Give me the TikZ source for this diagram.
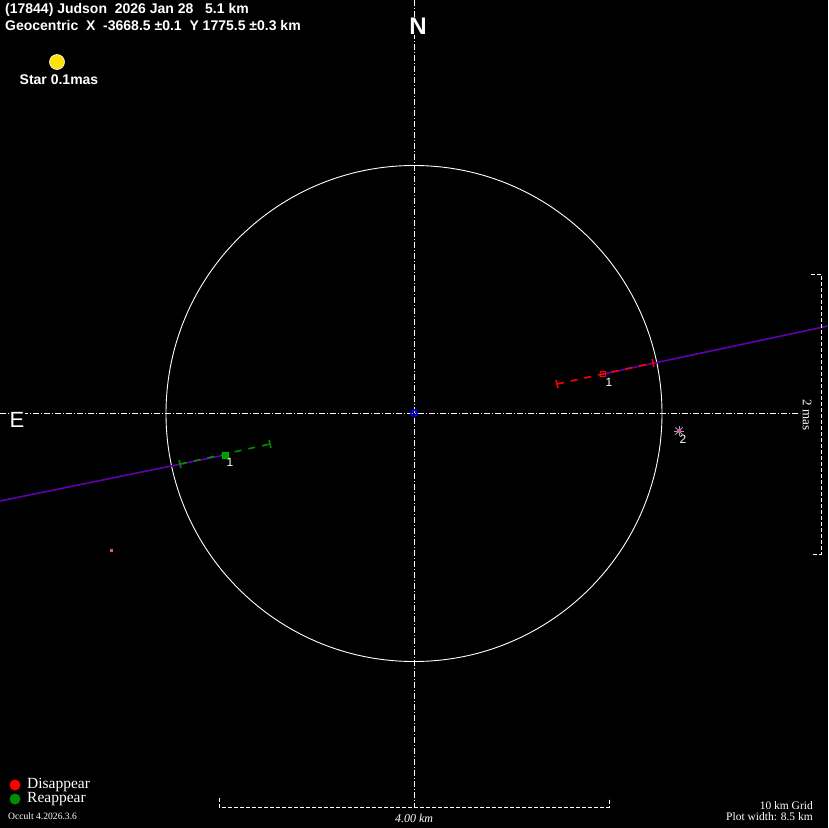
\documentclass[tikz,border=0pt]{standalone}
\usepackage{fontspec}
\setmainfont{Liberation Serif}
\newfontfamily\hdfont{Liberation Sans}
\usetikzlibrary{calc}
\definecolor{pinkdot}{RGB}{235,70,170}
\definecolor{pathviolet}{RGB}{100,0,170}
\begin{document}
\begin{tikzpicture}[x=1pt,y=-1pt,
  hd/.style={text=white,font=\hdfont\bfseries\fontsize{14}{16}\selectfont,inner sep=0pt,anchor=west},
  sm/.style={text=white,font=\fontsize{11.5}{12}\selectfont,inner sep=0pt},
  axisline/.style={white,line width=0.9pt,dash pattern=on 6pt off 2pt on 1pt off 2pt},
  scaleline/.style={white,line width=0.9pt,dash pattern=on 4pt off 2pt},
  pathline/.style={draw=pathviolet,line width=1.6pt},
  reddash/.style={red,line width=1.6pt,dash pattern=on 7pt off 7pt},
  greendash/.style={green!55!black,line width=1.6pt,dash pattern=on 7pt off 7pt},
  numlbl/.style={text=white,font=\hdfont\fontsize{12}{13}\selectfont,inner sep=0pt}]
\fill[black] (0,0) rectangle (828,828);
\useasboundingbox (0,0) rectangle (828,828);
% header
\node[hd] (t1) at (5,10) {(17844) Judson\ \ 2026 Jan 28\ \ \ 5.1 km};
\node[hd] (t2) at (5,26) {Geocentric\ \ X\ \ -3668.5 ±0.1\ \ Y 1775.5 ±0.3 km};
\node[circle,fill=yellow!85!orange,draw=white,line width=0.6pt,minimum size=15pt,inner sep=0pt] (star) at (57,62) {};
\node[hd,anchor=center] (starlbl) at (59,80) {Star 0.1mas};
% axes
\coordinate (ax0) at (0,413);
\coordinate (ax1) at (800,413);
\coordinate (ay0) at (414,0);
\coordinate (ay1) at (414,807);
\draw[axisline] (ax0) -- (ax1);
\draw[axisline] (ay0) -- (ay1);
\node[fill=black,text=white,font=\hdfont\bfseries\fontsize{24}{26}\selectfont,inner sep=1pt] (N) at (418,26) {N};
\node[fill=black,text=white,font=\hdfont\fontsize{22}{24}\selectfont,inner sep=1pt] (E) at (17,420) {E};
% circle
\node[circle,draw=white,line width=0.9pt,minimum size=496pt,inner sep=0pt] (body) at (414,413.5) {};
\node[circle,draw=blue,line width=1.8pt,minimum size=6pt,inner sep=0pt] (ctr) at (414,413) {};
% paths
\coordinate (pL) at (0,501);
\coordinate (pR) at (828,326);
\coordinate (gp) at (225,455);
\coordinate (rp) at (603,374);
\draw[pathline] (pL) -- (gp);
\draw[pathline] (rp) -- (pR);
% red segment
\coordinate (r1) at (557,384);
\coordinate (r2) at (653,363);
\draw[reddash] (r1) -- (r2);
\draw[red,line width=1.6pt] ($(r1)!4pt!90:(r2)$) -- ($(r1)!4pt!-90:(r2)$);
\draw[red,line width=1.6pt] ($(r2)!4pt!90:(r1)$) -- ($(r2)!4pt!-90:(r1)$);
\node[draw=red,line width=1.4pt,minimum size=5pt,inner sep=0pt] (rdot) at (rp) {};
\node[numlbl] (r1lbl) at (609,382) {1};
% green segment
\coordinate (g1) at (180,464);
\coordinate (g2) at (270,444);
\draw[greendash] (g1) -- (g2);
\draw[green!55!black,line width=1.6pt] ($(g1)!4pt!90:(g2)$) -- ($(g1)!4pt!-90:(g2)$);
\draw[green!55!black,line width=1.6pt] ($(g2)!4pt!90:(g1)$) -- ($(g2)!4pt!-90:(g1)$);
\node[fill=green!60!black,draw=green!70!black,minimum size=6pt,inner sep=0pt] (gdot) at (gp) {};
\node[numlbl] (g1lbl) at (230,462) {1};
% star 2
\coordinate (s2) at (679,431);
\foreach \a in {0,45,...,315}{\draw[gray!70,line width=0.9pt] (s2) -- ++(\a:5pt);}
\node[circle,fill=pinkdot,minimum size=4pt,inner sep=0pt] (s2dot) at (s2) {};
\node[numlbl] (s2lbl) at (683,439) {2};
\node[fill=pinkdot,minimum size=3pt,inner sep=0pt] (pdot) at (111,550) {};
% right scale
\coordinate (b1) at (821,274);
\coordinate (b2) at (821,554);
\coordinate (b1t) at (811,274);
\coordinate (b2t) at (811,554);
\draw[scaleline] (b1t) -- (b1) -- (b2) -- (b2t);
\node[sm,rotate=-90,font=\fontsize{13}{14}\selectfont] (mas) at (807,415) {2 mas};
% bottom scale
\coordinate (c1) at (219,807);
\coordinate (c2) at (609,807);
\coordinate (c1t) at (219,798);
\coordinate (c2t) at (609,798);
\draw[scaleline] (c1t) -- (c1) -- (c2) -- (c2t);
\node[sm,font=\itshape\fontsize{12}{13}\selectfont] (km) at (414,818) {4.00 km};
% legend
\node[circle,fill=red,minimum size=11pt,inner sep=0pt] (ld) at (15,785) {};
\node[sm,anchor=west,font=\fontsize{15.5}{16}\selectfont] (ldt) at (27,785) {Disappear};
\node[circle,fill=green!55!black,minimum size=11pt,inner sep=0pt] (lr) at (15,799) {};
\node[sm,anchor=west,font=\fontsize{15.5}{16}\selectfont] (lrt) at (27,799) {Reappear};
\node[sm,anchor=west,font=\fontsize{9.6}{10}\selectfont] (ver) at (8,816) {Occult 4.2026.3.6};
\node[sm,anchor=east] (grid) at (813,806) {10 km Grid};
\node[sm,anchor=east] (pw) at (813,817) {Plot width: 8.5 km};
\end{tikzpicture}
\end{document}
